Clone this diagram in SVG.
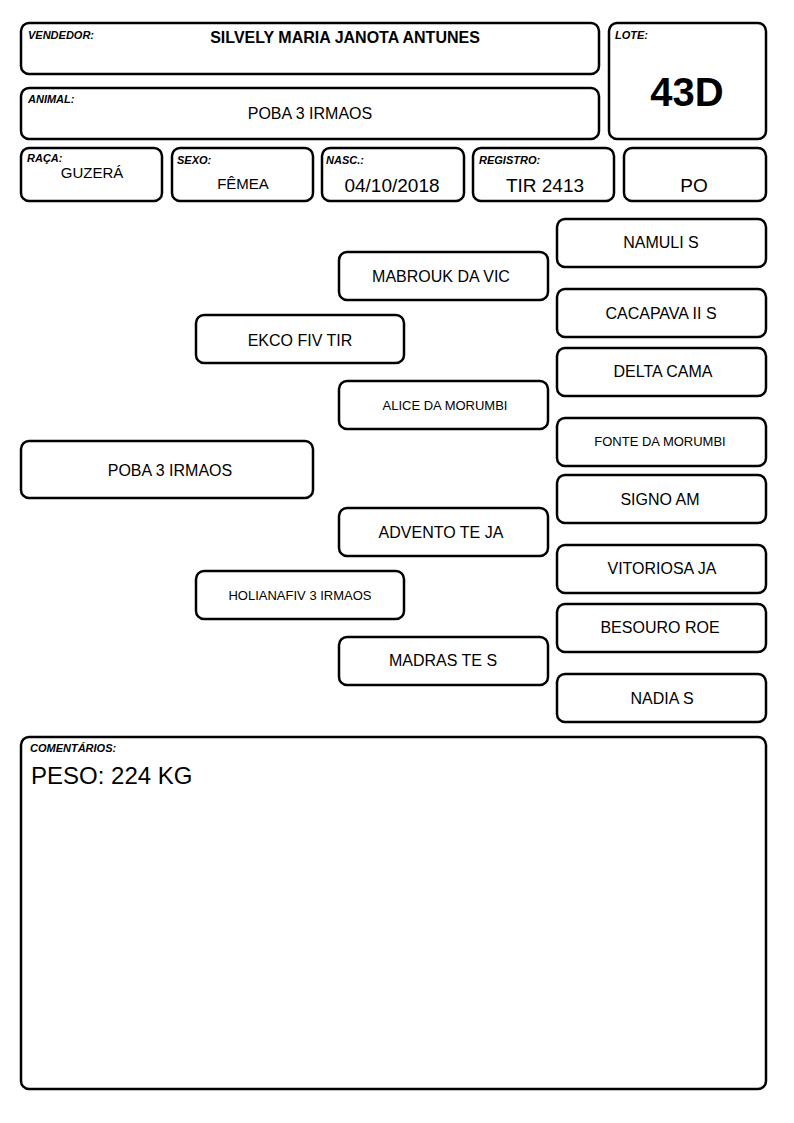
<svg xmlns="http://www.w3.org/2000/svg" width="794" height="1123" viewBox="0 0 794 1123">
<style>
rect{fill:#fff;stroke:#000;stroke-width:2.5}
text{font-family:"Liberation Sans",Arial,sans-serif;fill:#000}
.lb{font-size:11px;font-weight:bold;font-style:italic}
.c{text-anchor:middle}
.n{font-size:16px}
.s{font-size:13px}
.v{font-size:19px}
</style>
<rect x="0" y="0" width="794" height="1123" style="stroke:none"/>
<g id="vendedor"><rect x="21" y="23" width="578" height="51" rx="8"/><text class="lb" x="28" y="39">VENDEDOR:</text><text class="c" x="345" y="43" font-size="16" font-weight="bold">SILVELY MARIA JANOTA ANTUNES</text></g>
<g id="animal"><rect x="21" y="88" width="578" height="51" rx="8"/><text class="lb" x="28" y="103">ANIMAL:</text><text class="c n" x="310" y="119">POBA 3 IRMAOS</text></g>
<g id="lote"><rect x="609" y="23" width="157" height="116" rx="8"/><text class="lb" x="615" y="39">LOTE:</text><text class="c" x="687" y="106" font-size="40" font-weight="bold">43D</text></g>
<g id="raca"><rect x="21" y="148" width="141" height="53" rx="8"/><text class="lb" x="27" y="162">RAÇA:</text><text class="c" x="92" y="178" font-size="15">GUZERÁ</text></g>
<g id="sexo"><rect x="172" y="148" width="141" height="53" rx="8"/><text class="lb" x="177" y="164">SEXO:</text><text class="c" x="243" y="189" font-size="15">FÊMEA</text></g>
<g id="nasc"><rect x="322" y="148" width="142" height="53" rx="8"/><text class="lb" x="326" y="164">NASC.:</text><text class="c v" x="392" y="192">04/10/2018</text></g>
<g id="registro"><rect x="473" y="148" width="141" height="53" rx="8"/><text class="lb" x="479" y="164">REGISTRO:</text><text class="c v" x="545" y="192">TIR 2413</text></g>
<g id="po"><rect x="624" y="148" width="142" height="53" rx="8"/><text class="c v" x="694" y="192">PO</text></g>
<g id="namuli"><rect x="557" y="219" width="209" height="48" rx="8"/><text class="c n" x="661" y="248">NAMULI S</text></g>
<g id="mabrouk"><rect x="339" y="252" width="209" height="48" rx="8"/><text class="c n" x="441" y="282">MABROUK DA VIC</text></g>
<g id="cacapava"><rect x="557" y="289" width="209" height="48" rx="8"/><text class="c n" x="661" y="319">CACAPAVA II S</text></g>
<g id="ekco"><rect x="196" y="315" width="208" height="48" rx="8"/><text class="c n" x="300" y="346">EKCO FIV TIR</text></g>
<g id="delta"><rect x="557" y="348" width="209" height="48" rx="8"/><text class="c n" x="663" y="377">DELTA CAMA</text></g>
<g id="alice"><rect x="339" y="381" width="209" height="48" rx="8"/><text class="c s" x="445" y="410">ALICE DA MORUMBI</text></g>
<g id="fonte"><rect x="557" y="418" width="209" height="48" rx="8"/><text class="c s" x="660" y="446">FONTE DA MORUMBI</text></g>
<g id="poba"><rect x="21" y="441" width="292" height="57" rx="8"/><text class="c n" x="170" y="476">POBA 3 IRMAOS</text></g>
<g id="signo"><rect x="557" y="475" width="209" height="48" rx="8"/><text class="c n" x="660" y="505">SIGNO AM</text></g>
<g id="advento"><rect x="339" y="508" width="209" height="48" rx="8"/><text class="c n" x="441" y="538">ADVENTO TE JA</text></g>
<g id="vitoriosa"><rect x="557" y="545" width="209" height="48" rx="8"/><text class="c n" x="662" y="574">VITORIOSA JA</text></g>
<g id="holianafiv"><rect x="196" y="571" width="208" height="48" rx="8"/><text class="c s" x="300" y="600">HOLIANAFIV 3 IRMAOS</text></g>
<g id="besouro"><rect x="557" y="604" width="209" height="48" rx="8"/><text class="c n" x="660" y="633">BESOURO ROE</text></g>
<g id="madras"><rect x="339" y="637" width="209" height="48" rx="8"/><text class="c n" x="443" y="666">MADRAS TE S</text></g>
<g id="nadia"><rect x="557" y="674" width="209" height="48" rx="8"/><text class="c n" x="662" y="704">NADIA S</text></g>
<g id="comentarios"><rect x="21" y="737" width="745" height="352" rx="8"/><text class="lb" x="30" y="752">COMENTÁRIOS:</text><text x="31" y="784" font-size="24">PESO: 224 KG</text></g>
<g id="connectors"></g>
</svg>
